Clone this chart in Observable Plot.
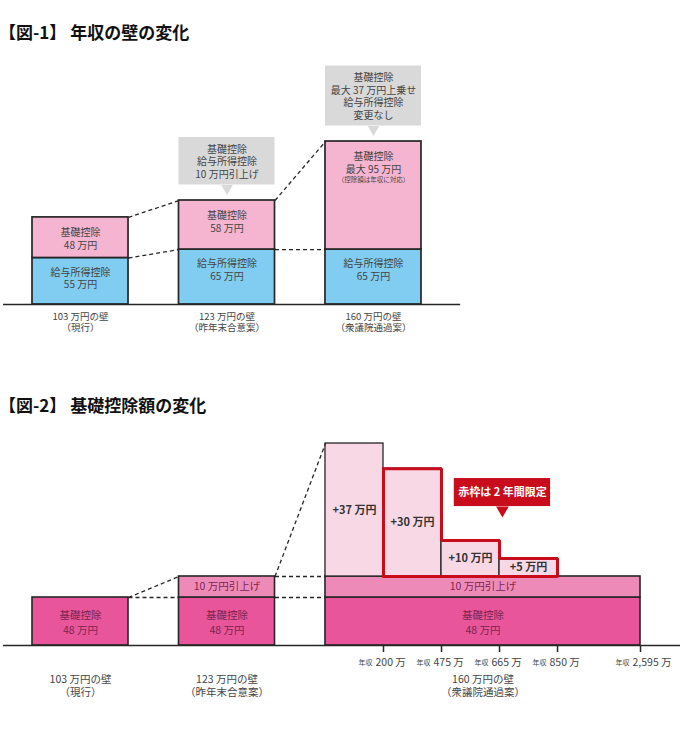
<!DOCTYPE html>
<html><head><meta charset="utf-8">
<script src="https://cdn.jsdelivr.net/npm/d3@7"></script>
<script src="https://cdn.jsdelivr.net/npm/@observablehq/plot@0.6"></script>
<style>
body{margin:0;background:#fff;font-family:"Noto Sans CJK JP",sans-serif;}
#page{position:relative;width:680px;height:733px;overflow:hidden}
.title{position:absolute;left:-1px;font-size:17px;font-weight:700;color:#111;line-height:1;white-space:nowrap}
#c1{position:absolute;left:0;top:50px}
#c2{position:absolute;left:0;top:425px}
</style></head>
<body><div id="page">
<div class="title" style="top:23px">【図-1】 年収の壁の変化</div>
<div id="c1"></div>
<div class="title" style="top:396px">【図-2】 基礎控除額の変化</div>
<div id="c2"></div>
</div>
<script>
// ---- data ----
const walls = ["103 万円の壁", "123 万円の壁", "160 万円の壁"];
const wallNotes = ["（現行）", "（昨年末合意案）", "（衆議院通過案）"];
const salaryDeduction = [55, 65, 65];
const basicDeduction = [48, 58, 95];
const basicPrefix = ["", "", "最大 "];
const basicNotes = ["", "", "（控除額は年収に対応）"];
const callouts1 = ["", "基礎控除\n給与所得控除\n10 万円引上げ", "基礎控除\n最大 37 万円上乗せ\n給与所得控除\n変更なし"];

const basicBase = [48, 48, 48];
const basicRaise = [0, 10, 10];
const bonusSteps = [37, 30, 10, 5];
const twoYearLimited = [false, true, true, true];
const incomeTicks = ["200", "475", "665", "850", "2,595"];
const redNote = "赤枠は 2 年間限定";

// ---- layout (abstract x units) ----
const BAR_W = 1.655, PITCH = 2.525, LAST_STEP = 1.43;
const wallX1 = walls.map((_, i) => i * PITCH);
const cStart = wallX1[2];
const cEnd = cStart + bonusSteps.length + LAST_STEP;

const DARK = "#262626", TXT = "#444", RED = "#c90c1c", GRAY = "#d9d9d9";
const common = {
  width: 680, height: 300,
  marginLeft: 32, marginRight: 40,
  x: {domain: [0, cEnd], axis: null},
  style: {fontFamily: '"Noto Sans CJK JP", sans-serif', fontSize: "10px", background: "transparent", overflow: "visible"}
};

// ---- chart 1 ----
const rows1 = walls.map((w, i) => ({
  x1: wallX1[i], x2: wallX1[i] + BAR_W, xc: wallX1[i] + BAR_W / 2,
  salary: salaryDeduction[i], total: salaryDeduction[i] + basicDeduction[i],
  salaryText: `給与所得控除\n${salaryDeduction[i]} 万円`,
  basicText: `基礎控除\n${basicPrefix[i]}${basicDeduction[i]} 万円`,
  note: basicNotes[i], label: `${w}\n${wallNotes[i]}`, callout: callouts1[i]
}));
// schematic (broken) value axis, as in the original figure
const w1 = d3.scaleLinear().domain([0, rows1[1].total, rows1[2].total]).range([0, 104, 163]);
const links1 = d3.pairs(rows1).flatMap(([a, b]) => [
  {x1: a.x2, y1: a.salary, x2: b.x1, y2: b.salary},
  {x1: a.x2, y1: a.total, x2: b.x1, y2: b.total}
]);
const calloutMarks1 = rows1.filter(r => r.callout).flatMap(r => {
  const n = r.callout.split("\n").length, h = n * 12.5 + 10, gap = 15.5;
  return [
    Plot.rect([r], {x1: "x1", x2: "x2", y1: d => w1(d.total), y2: d => w1(d.total), fill: GRAY, insetTop: -(h + gap), insetBottom: gap}),
    Plot.dot([r], {x: "xc", y: d => w1(d.total), symbol: "triangle", r: 4.3, rotate: 180, fill: GRAY, dy: -(gap - 3.3)}),
    Plot.text([r], {x: "xc", y: d => w1(d.total), text: "callout", lineAnchor: "middle", dy: -(gap + h / 2), fontSize: 10, lineHeight: 1.25, fill: TXT})
  ];
});

const chart1 = Plot.plot({
  ...common,
  y: {domain: [0, 254], range: [254, 0], axis: null},
  marks: [
    Plot.rect(rows1, {x1: "x1", x2: "x2", y1: 0, y2: d => w1(d.salary), fill: "#80cdf1", stroke: DARK, strokeWidth: 1.7}),
    Plot.rect(rows1, {x1: "x1", x2: "x2", y1: d => w1(d.salary), y2: d => w1(d.total), fill: "#f5b5d0", stroke: DARK, strokeWidth: 1.7}),
    Plot.link(links1, {x1: "x1", y1: d => w1(d.y1), x2: "x2", y2: d => w1(d.y2), stroke: DARK, strokeWidth: 1.3, strokeDasharray: "4,3"}),
    Plot.text(rows1, {x: "xc", y: d => w1(d.salary), text: "salaryText", lineAnchor: "top", dy: 9, fontSize: 10, lineHeight: 1.25, fill: TXT}),
    Plot.text(rows1, {x: "xc", y: d => w1(d.total), text: "basicText", lineAnchor: "top", dy: 10, fontSize: 10, lineHeight: 1.25, fill: TXT}),
    Plot.text(rows1.filter(r => r.note), {x: "xc", y: d => w1(d.total), text: "note", lineAnchor: "top", dy: 36, fontSize: 6.5, fill: TXT}),
    ...calloutMarks1,
    Plot.ruleY([0], {x1: -0.5, x2: 7.38, stroke: DARK, strokeWidth: 1.6}),
    Plot.text(rows1, {x: "xc", y: 0, text: "label", lineAnchor: "top", dy: 7, fontSize: 9.5, lineHeight: 1.2, fill: TXT})
  ]
});
document.getElementById("c1").append(chart1);

// ---- chart 2 ----
const rows2 = walls.map((w, i) => {
  const x2 = i === 2 ? cEnd : wallX1[i] + BAR_W;
  const base = basicBase[i], top = base + basicRaise[i];
  const peak = i === 2 ? top + d3.max(bonusSteps) : top;
  return {x1: wallX1[i], x2, xc: (wallX1[i] + x2) / 2, base, raise: basicRaise[i], top, peak,
    label: `${w}\n${wallNotes[i]}`};
});
const stepTop0 = rows2[2].top;
const w2 = d3.scaleLinear().domain([0, basicBase[2], stepTop0, rows2[2].peak]).range([0, 48, 69, 202]);
const steps = bonusSteps.map((b, k) => ({
  x1: cStart + k, x2: cStart + k + 1, xc: cStart + k + 0.5,
  y1: stepTop0, y2: stepTop0 + b, b, limited: twoYearLimited[k]
}));
const redSteps = steps.filter(s => s.limited);
const redPts = [{x: redSteps[0].x1, y: stepTop0}];
redSteps.forEach(s => { redPts.push({x: s.x1, y: s.y2}); redPts.push({x: s.x2, y: s.y2}); });
redPts.push({x: redSteps.at(-1).x2, y: stepTop0});
redPts.push({x: redSteps[0].x1, y: stepTop0});
redPts.push({x: redSteps[0].x1, y: redSteps[0].y2});

const links2 = d3.pairs(rows2).flatMap(([a, b]) => {
  const L = [{x1: a.x2, y1: a.peak, x2: b.x1, y2: b.peak}, {x1: a.x2, y1: a.base, x2: b.x1, y2: b.base}];
  if (a.top !== a.base) L.push({x1: a.x2, y1: a.top, x2: b.x1, y2: b.top});
  return L;
});
const tickData = incomeTicks.map((t, k) => ({x: k < bonusSteps.length ? cStart + k + 1 : cEnd, label: t}));
const noteAnchor = [{x: cStart + 3, y: stepTop0 + bonusSteps[2], text: redNote}];
const mid = (a, b) => (w2(a) + w2(b)) / 2;

const chart2 = Plot.plot({
  ...common,
  y: {domain: [0, 220], range: [220, 0], axis: null},
  marks: [
    Plot.rect(rows2, {x1: "x1", x2: "x2", y1: 0, y2: d => w2(d.base), fill: "#e8559a", stroke: DARK, strokeWidth: 1.6}),
    Plot.rect(rows2.filter(r => r.raise), {x1: "x1", x2: "x2", y1: d => w2(d.base), y2: d => w2(d.top), fill: "#ee8ab8", stroke: DARK, strokeWidth: 1.6}),
    Plot.rect(steps, {x1: "x1", x2: "x2", y1: d => w2(d.y1), y2: d => w2(d.y2), fill: "#f9d8e6", stroke: DARK, strokeWidth: 1.3}),
    Plot.line(redPts, {x: "x", y: d => w2(d.y), stroke: RED, strokeWidth: 3, strokeLinejoin: "miter", strokeLinecap: "square"}),
    Plot.link(links2, {x1: "x1", y1: d => w2(d.y1), x2: "x2", y2: d => w2(d.y2), stroke: DARK, strokeWidth: 1.3, strokeDasharray: "4,3"}),
    Plot.text(rows2, {x: "xc", y: d => mid(0, d.base), text: d => `基礎控除\n${d.base} 万円`, fontSize: 10.5, lineHeight: 1.4, fill: "#7b2650"}),
    Plot.text(rows2.filter(r => r.raise), {x: "xc", y: d => mid(d.base, d.top), text: d => `${d.raise} 万円引上げ`, fontSize: 10.5, fill: "#7b2650"}),
    Plot.text(steps, {x: "xc", y: d => mid(d.y1, d.y2), text: d => `+${d.b} 万円`, fontWeight: "bold", fontSize: 11, fill: "#333"}),
    Plot.rect(noteAnchor, {x1: d => d.x - 0.78, x2: d => d.x + 0.88, y1: d => w2(d.y), y2: d => w2(d.y), fill: RED, insetTop: -62, insetBottom: 34}),
    Plot.dot(noteAnchor, {x: d => d.x + 0.05, y: d => w2(d.y), symbol: "triangle", r: 4.7, rotate: 180, fill: RED, dy: -30.3}),
    Plot.text(noteAnchor, {x: d => d.x + 0.05, y: d => w2(d.y), text: "text", dy: -48, fontSize: 11, fontWeight: "bold", fill: "#fff"}),
    Plot.ruleY([0], {x1: -0.5, x2: 11.2, stroke: DARK, strokeWidth: 1.6}),
    Plot.ruleX(tickData, {x: "x", y1: 0, y2: 0, insetBottom: -7, stroke: DARK, strokeWidth: 1.5}),
    Plot.text(tickData, {x: "x", y: 0, text: () => "年収", textAnchor: "end", dx: -11, dy: 17, fontSize: 7, fill: TXT}),
    Plot.text(tickData, {x: "x", y: 0, text: d => `${d.label} 万`, textAnchor: "start", dx: -8, dy: 17, fontSize: 10.5, fill: TXT}),
    Plot.text(rows2, {x: "xc", y: 0, text: "label", lineAnchor: "top", dy: 28, fontSize: 10.5, lineHeight: 1.25, fill: TXT})
  ]
});
document.getElementById("c2").append(chart2);
</script>
</body></html>
